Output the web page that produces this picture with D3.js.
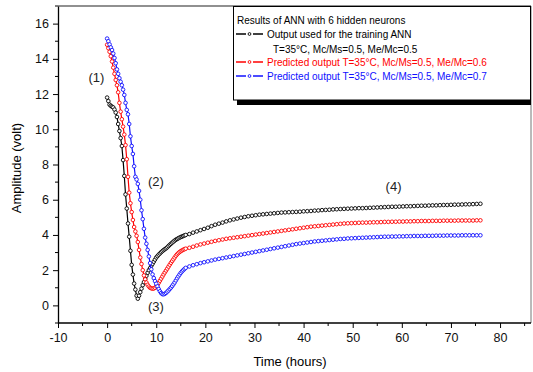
<!DOCTYPE html>
<html>
<head>
<meta charset="utf-8">
<script src="https://cdn.jsdelivr.net/npm/d3@7"></script>
<style>
  body { margin: 0; background: #fff; }
  text { font-family: "Liberation Sans", Arial, sans-serif; }
</style>
</head>
<body>
<div id="chart"></div>
<script>
// sampling grid: every 15 min up to 16 h, then every 45 min
var timeEarly = d3.range(0, 16.001, 0.25);
var timeLate = d3.range(16.75, 76.001, 0.75);

// Output used for training (Me/Mc=0.5)
var blackEarly = [11.8,11.6,11.4,11.33,11.28,11.24,11.12,10.95,10.7,10.3,9.9,9.5,9.05,8.25,7.35,6.3,5.5,4.65,3.9,3.1,2.3,1.75,1.24,0.9,0.55,0.38,
  0.55,0.75,0.95,1.15,1.32,1.5,1.68,1.85,2.0,2.12,2.25,2.36,2.48,2.6,2.72,2.8,2.88,2.95,3.02,3.08,3.14,3.19,3.24,3.3,3.37,3.44,3.5,3.56,3.62,3.68,3.73,3.77,3.81,3.85,3.88,3.91,3.94,3.97,4.0];
var blackLate = [4.05,4.13,4.2,4.27,4.34,4.41,4.5,4.58,4.64,4.7,4.77,4.83,4.88,4.93,4.98,5.02,5.06,5.09,5.12,5.15,5.17,5.19,5.21,5.23,5.25,5.27,5.28,5.29,5.3,5.31,5.32,5.34,5.35,5.36,5.38,5.39,5.41,5.42,5.43,5.45,5.46,5.47,5.48,5.49,5.5,5.51,5.52,5.52,5.53,5.54,5.55,5.56,5.57,5.58,5.59,5.6,5.6,5.61,5.62,5.63,5.63,5.64,5.65,5.66,5.66,5.67,5.68,5.68,5.69,5.7,5.7,5.71,5.72,5.72,5.73,5.74,5.74,5.75,5.76,5.77];

// Predicted Me/Mc=0.6
var redEarly = [14.8,14.6,14.4,14.15,13.85,13.5,13.15,12.8,12.5,12.1,11.5,11.0,10.57,10.15,9.7,9.1,8.3,7.3,6.4,5.8,5.3,4.85,4.45,4.2,3.95,3.6,3.15,2.72,2.35,2.0,1.7,1.48,1.3,1.17,1.07,1.0,0.97,0.95,0.96,1.0,1.08,1.18,1.28,1.4,1.52,1.64,1.76,1.87,1.98,2.09,2.2,2.31,2.42,2.52,2.62,2.72,2.82,2.9,2.97,3.03,3.08,3.12,3.16,3.19,3.22];
var redLate = [3.27,3.33,3.4,3.46,3.51,3.56,3.61,3.66,3.7,3.74,3.78,3.81,3.84,3.87,3.9,3.93,3.96,3.99,4.02,4.05,4.08,4.11,4.14,4.17,4.2,4.23,4.26,4.29,4.32,4.35,4.38,4.41,4.44,4.47,4.49,4.51,4.53,4.55,4.57,4.59,4.61,4.63,4.65,4.66,4.67,4.68,4.69,4.7,4.7,4.71,4.72,4.72,4.73,4.74,4.74,4.75,4.75,4.76,4.76,4.77,4.77,4.78,4.78,4.79,4.79,4.79,4.8,4.8,4.8,4.81,4.81,4.81,4.81,4.82,4.82,4.82,4.82,4.82,4.83,4.83];

// Predicted Me/Mc=0.7
var blueEarly = [15.15,15.0,14.82,14.65,14.5,14.3,14.05,13.75,13.4,13.15,12.9,12.7,12.5,12.25,11.95,11.5,11.1,10.85,10.3,9.6,9.05,8.6,7.9,7.3,7.15,6.9,6.5,6.0,5.4,4.9,4.35,3.85,3.5,3.15,2.78,2.4,2.05,1.76,1.55,1.38,1.23,1.08,0.93,0.8,0.7,0.64,0.63,0.66,0.71,0.78,0.85,0.93,1.01,1.1,1.2,1.3,1.42,1.54,1.65,1.75,1.85,1.93,2.0,2.07,2.13];
var blueLate = [2.21,2.28,2.34,2.4,2.45,2.5,2.55,2.6,2.64,2.68,2.72,2.76,2.8,2.84,2.88,2.92,2.96,3.0,3.04,3.08,3.12,3.16,3.2,3.24,3.28,3.32,3.36,3.4,3.44,3.48,3.51,3.54,3.57,3.6,3.63,3.65,3.67,3.69,3.71,3.73,3.75,3.77,3.78,3.8,3.81,3.82,3.83,3.84,3.85,3.86,3.87,3.88,3.89,3.9,3.9,3.91,3.91,3.92,3.92,3.93,3.93,3.94,3.94,3.94,3.95,3.95,3.95,3.96,3.96,3.96,3.97,3.97,3.97,3.97,3.98,3.98,3.98,3.98,3.98,3.98];

var xTicks = [-10, 0, 10, 20, 30, 40, 50, 60, 70, 80];
var xMinor = [-5, 5, 15, 25, 35, 45, 55, 65, 75, 85];
var yTicks = [0, 2, 4, 6, 8, 10, 12, 14, 16];
var yMinor = [-1, 1, 3, 5, 7, 9, 11, 13, 15, 17];

var legendTitle = "Results of ANN with 6 hidden neurons";
var seriesNames = ["Output used for the training ANN", "Predicted output T=35\u00b0C, Mc/Ms=0.5, Me/Mc=0.6", "Predicted output T=35\u00b0C, Mc/Ms=0.5, Me/Mc=0.7"];
var seriesColors = ["#000000", "#ff0000", "#1010ff"];

var annotations = [
  {label: "(1)", t: -3.8, v: 12.7},
  {label: "(2)", t: 8.3, v: 6.8},
  {label: "(3)", t: 8.3, v: -0.3},
  {label: "(4)", t: 56.7, v: 6.5}
];

var width = 533, height = 372;
var margin = {top: 6, right: 2, bottom: 49, left: 58};

var svg = d3.select("#chart").append("svg")
  .attr("width", width)
  .attr("height", height);

var x = d3.scaleLinear()
  .domain([-10, 86.3])
  .range([margin.left, width - margin.right]);
var y = d3.scaleLinear()
  .domain([-1, 17])
  .range([height - margin.bottom, margin.top]);

function zip(times, vals) {
  var n = Math.min(times.length, vals.length);
  var out = [];
  for (var i = 0; i < n; i++) out.push([times[i], vals[i]]);
  return out;
}

var series = [
  zip(timeEarly, blackEarly).concat(zip(timeLate, blackLate)),
  zip(timeEarly, redEarly).concat(zip(timeLate, redLate)),
  zip(timeEarly, blueEarly).concat(zip(timeLate, blueLate))
];

// frame
svg.append("line")
  .attr("x1", x(-10)).attr("x2", width - margin.right)
  .attr("y1", margin.top).attr("y2", margin.top)
  .attr("stroke", "#222").attr("stroke-width", 1.2);
svg.append("line")
  .attr("x1", width - margin.right).attr("x2", width - margin.right)
  .attr("y1", margin.top).attr("y2", height - margin.bottom)
  .attr("stroke", "#777").attr("stroke-width", 1);

// axes
var plain = function(d) { return String(d); };
var xAxis = d3.axisBottom(x).tickValues(xTicks).tickFormat(plain).tickSize(5).tickSizeOuter(0).tickPadding(5);
var yAxis = d3.axisLeft(y).tickValues(yTicks).tickFormat(plain).tickSize(5).tickSizeOuter(0).tickPadding(4);

var gx = svg.append("g")
  .attr("transform", "translate(0," + (height - margin.bottom) + ")")
  .call(xAxis);
gx.select(".domain").attr("d", "M" + x(-10) + ",0H" + (width - margin.right));
gx.selectAll(".minor")
  .data(xMinor)
  .enter().append("line")
  .attr("class", "minor")
  .attr("x1", function(d) { return x(d); }).attr("x2", function(d) { return x(d); })
  .attr("y1", 0).attr("y2", 3).attr("stroke", "#000");

var gy = svg.append("g")
  .attr("transform", "translate(" + margin.left + ",0)")
  .call(yAxis);
gy.selectAll(".minor")
  .data(yMinor)
  .enter().append("line")
  .attr("class", "minor")
  .attr("x1", 0).attr("x2", -3)
  .attr("y1", function(d) { return y(d); }).attr("y2", function(d) { return y(d); })
  .attr("stroke", "#000");

svg.selectAll(".domain").attr("stroke", "#000").attr("stroke-width", 1.3);
svg.selectAll(".tick line").attr("stroke", "#000");
svg.selectAll(".tick text")
  .attr("font-size", 12.5)
  .attr("fill", "#111")
  .style("font-family", "'Liberation Sans', Arial, sans-serif");

// axis titles
svg.append("text")
  .attr("x", 290).attr("y", 366)
  .attr("text-anchor", "middle")
  .attr("font-size", 13)
  .text("Time (hours)");
svg.append("text")
  .attr("transform", "translate(21,168) rotate(-90)")
  .attr("text-anchor", "middle")
  .attr("font-size", 13)
  .text("Amplitude (volt)");

// series
var line = d3.line()
  .x(function(d) { return x(d[0]); })
  .y(function(d) { return y(d[1]); });

series.forEach(function(pts, i) {
  var g = svg.append("g");
  g.append("path")
    .datum(pts)
    .attr("d", line)
    .attr("fill", "none")
    .attr("stroke", seriesColors[i])
    .attr("stroke-width", 1.2);
  g.selectAll("circle")
    .data(pts)
    .enter().append("circle")
    .attr("cx", function(d) { return x(d[0]); })
    .attr("cy", function(d) { return y(d[1]); })
    .attr("r", 1.8)
    .attr("fill", "#fff")
    .attr("stroke", seriesColors[i])
    .attr("stroke-width", 0.9);
});

// annotations
svg.selectAll(".anno")
  .data(annotations)
  .enter().append("text")
  .attr("class", "anno")
  .attr("x", function(d) { return x(d.t); })
  .attr("y", function(d) { return y(d.v); })
  .attr("font-size", 13)
  .attr("fill", "#222")
  .text(function(d) { return d.label; });

// legend
var lg = svg.append("g");
lg.append("rect")
  .attr("x", 237).attr("y", 100)
  .attr("width", 294).attr("height", 5)
  .attr("fill", "#000");
lg.append("rect")
  .attr("x", 233.5).attr("y", 6.5)
  .attr("width", 297).attr("height", 93.5)
  .attr("fill", "#fff")
  .attr("stroke", "#000")
  .attr("stroke-width", 1);

lg.append("text")
  .attr("x", 237).attr("y", 24)
  .attr("font-size", 10)
  .text(legendTitle);

var rowY = [34, 62, 76];
seriesNames.forEach(function(name, i) {
  var yy = rowY[i];
  lg.append("line").attr("x1", 236).attr("x2", 246).attr("y1", yy).attr("y2", yy)
    .attr("stroke", seriesColors[i]).attr("stroke-width", 1.5);
  lg.append("line").attr("x1", 253).attr("x2", 263).attr("y1", yy).attr("y2", yy)
    .attr("stroke", seriesColors[i]).attr("stroke-width", 1.5);
  lg.append("circle").attr("cx", 249.5).attr("cy", yy).attr("r", 1.4)
    .attr("fill", "#fff").attr("stroke", seriesColors[i]).attr("stroke-width", 0.9);
  lg.append("text")
    .attr("x", 267).attr("y", yy + 3.5)
    .attr("font-size", 10)
    .attr("fill", seriesColors[i])
    .text(name);
});
lg.append("text")
  .attr("x", 273).attr("y", 52.5)
  .attr("font-size", 10)
  .text("T=35\u00b0C, Mc/Ms=0.5, Me/Mc=0.5");
</script>
</body>
</html>
